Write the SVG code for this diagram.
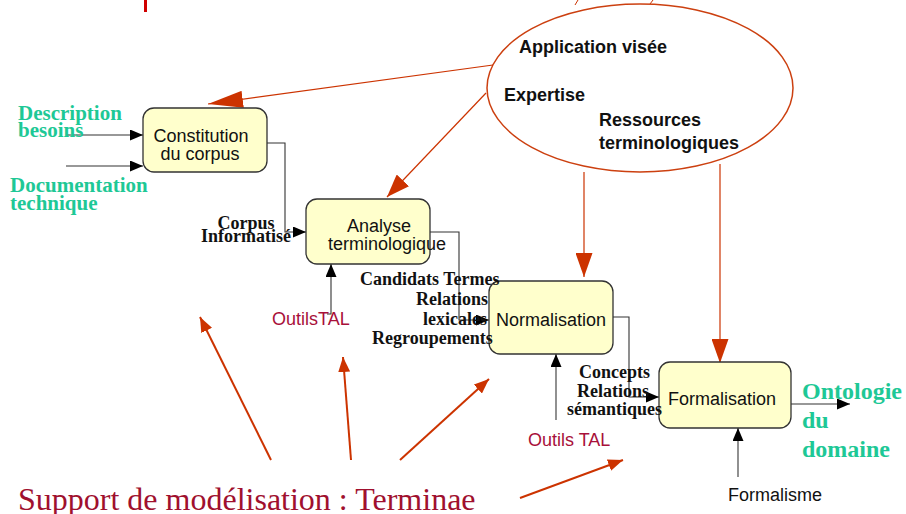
<svg xmlns="http://www.w3.org/2000/svg" width="906" height="514" viewBox="0 0 906 514">
  <style>
    .box { fill: #ffffcc; stroke: #333; stroke-width: 1.3; }
    .boxtxt { font-family: "Liberation Sans", Arial, sans-serif; font-size: 18px; fill: #111; }
    .ell { font-family: "Liberation Sans", Arial, sans-serif; font-size: 18px; font-weight: bold; fill: #111; }
    .lbl { font-family: "Liberation Serif", "Times New Roman", serif; font-size: 18px; font-weight: bold; fill: #111; }
    .green { font-family: "Liberation Serif", "Times New Roman", serif; font-weight: bold; fill: #1ec896; }
    .tool { font-family: "Liberation Sans", Arial, sans-serif; font-size: 18px; fill: #a8103a; }
    .conn { fill: none; stroke: #333; stroke-width: 1.1; marker-end: url(#blk); }
    .gray { fill: none; stroke: #555; stroke-width: 1.3; marker-end: url(#blk); }
    .red { fill: none; stroke: #cc3300; stroke-width: 1.2; }
    .redb { fill: none; stroke: #cc3300; stroke-width: 2; marker-end: url(#rsm); }
  </style>
  <defs>
    <marker id="blk" markerUnits="userSpaceOnUse" markerWidth="13" markerHeight="11" refX="13" refY="5.5" orient="auto">
      <path d="M0,0 L13,5.5 L0,11 z" fill="#000"/>
    </marker>
    <marker id="rbig" markerUnits="userSpaceOnUse" markerWidth="24" markerHeight="17" refX="24" refY="8.5" orient="auto">
      <path d="M0,0 L24,8.5 L0,17 z" fill="#cc3300"/>
    </marker>
    <marker id="rlong" markerUnits="userSpaceOnUse" markerWidth="35" markerHeight="17" refX="35" refY="8.5" orient="auto">
      <path d="M0,0 L35,8.5 L0,17 z" fill="#cc3300"/>
    </marker>
    <marker id="rmid" markerUnits="userSpaceOnUse" markerWidth="23" markerHeight="17" refX="23" refY="8.5" orient="auto">
      <path d="M0,0 L23,8.5 L0,17 z" fill="#cc3300"/>
    </marker>
    <marker id="rsm" markerUnits="userSpaceOnUse" markerWidth="15" markerHeight="12" refX="15" refY="6" orient="auto">
      <path d="M0,0 L15,6 L0,12 z" fill="#cc3300"/>
    </marker>
  </defs>

  <rect width="906" height="514" fill="#fff"/>

  <!-- fragments at the top edge -->
  <rect x="144" y="0" width="3" height="12" fill="#d00000"/>
  <path d="M575,5 L578,0 M650,4 L653,0" stroke="#cc3300" stroke-width="1" fill="none"/>

  <!-- knowledge sources -->
  <g id="sources">
    <ellipse cx="640" cy="88" rx="153" ry="84" fill="none" stroke="#cc4010" stroke-width="1.5"/>
    <text class="ell" x="519" y="53">Application visée</text>
    <text class="ell" x="504" y="101">Expertise</text>
    <text class="ell" x="599" y="126">Ressources</text>
    <text class="ell" x="599" y="149">terminologiques</text>
  </g>

  <!-- connectors -->
  <g id="connectors">
    <path class="conn" d="M66,135 H143"/>
    <path class="conn" d="M66,166 H143"/>
    <path class="conn" d="M267,143 H285 V232 H306"/>
    <path class="conn" d="M430,232 H459 V320 H489"/>
    <path class="conn" d="M613,317 H629 V397 H659"/>
    <path class="conn" d="M791,404 H850"/>
    <path class="conn" d="M327,314 H331 V264"/>
    <path class="gray" d="M556,420 V354"/>
    <path class="gray" d="M738,477 V428"/>

    <path class="red" d="M493,65 L208,104" marker-end="url(#rlong)"/>
    <path class="red" d="M486,93 L387,197" marker-end="url(#rmid)"/>
    <path class="red" d="M584,172 V277" marker-end="url(#rbig)"/>
    <path class="red" d="M720,164 V363" marker-end="url(#rbig)"/>

    <path class="redb" d="M271,460 L200,317"/>
    <path class="redb" d="M351,460 L343,357"/>
    <path class="redb" d="M400,460 L489,379"/>
    <path class="redb" d="M520,498 L623,460"/>
  </g>

  <!-- process steps -->
  <g id="constitution">
    <rect class="box" x="143" y="108" width="124" height="64" rx="11"/>
    <text class="boxtxt" x="201" y="142" text-anchor="middle">Constitution</text>
    <text class="boxtxt" x="200" y="160" text-anchor="middle">du corpus</text>
  </g>
  <g id="analyse">
    <rect class="box" x="306" y="199" width="124" height="65" rx="11"/>
    <text class="boxtxt" x="347" y="232">Analyse</text>
    <text class="boxtxt" x="328" y="250">terminologique</text>
  </g>
  <g id="normalisation">
    <rect class="box" x="489" y="281" width="124" height="73" rx="11"/>
    <text class="boxtxt" x="496" y="326">Normalisation</text>
  </g>
  <g id="formalisation">
    <rect class="box" x="659" y="362" width="132" height="66" rx="11"/>
    <text class="boxtxt" x="668" y="405">Formalisation</text>
  </g>

  <!-- inputs and outputs -->
  <g id="inputs">
    <text class="green" font-size="21" x="18" y="120">Description</text>
    <text class="green" font-size="21" x="18" y="137">besoins</text>
    <text class="green" font-size="21" x="10" y="192">Documentation</text>
    <text class="green" font-size="21" x="10" y="210">technique</text>
  </g>
  <g id="ontologie">
    <text class="green" font-size="24" x="802" y="399">Ontologie</text>
    <text class="green" font-size="24" x="802" y="428">du</text>
    <text class="green" font-size="24" x="802" y="457">domaine</text>
  </g>

  <!-- flow labels -->
  <g id="corpus-label">
    <text class="lbl" x="246" y="229" text-anchor="middle">Corpus</text>
    <text class="lbl" x="246" y="242" text-anchor="middle">Informatisé</text>
  </g>
  <g id="candidats-label">
    <text class="lbl" x="360" y="285">Candidats Termes</text>
    <text class="lbl" x="416" y="305">Relations</text>
    <text class="lbl" x="423" y="325">lexicales</text>
    <text class="lbl" x="372" y="344">Regroupements</text>
  </g>
  <g id="concepts-label">
    <text class="lbl" x="579" y="378">Concepts</text>
    <text class="lbl" x="577" y="397">Relations</text>
    <text class="lbl" x="567" y="415">sémantiques</text>
  </g>

  <!-- tools -->
  <g id="tools">
    <text class="tool" x="272" y="325">OutilsTAL</text>
    <text class="tool" x="528" y="446">Outils TAL</text>
    <text class="boxtxt" x="728" y="501">Formalisme</text>
  </g>

  <g id="support">
    <text x="18" y="510" font-family="'Liberation Serif', 'Times New Roman', serif" font-size="32" fill="#a0102e">Support de modélisation : Terminae</text>
  </g>
</svg>
